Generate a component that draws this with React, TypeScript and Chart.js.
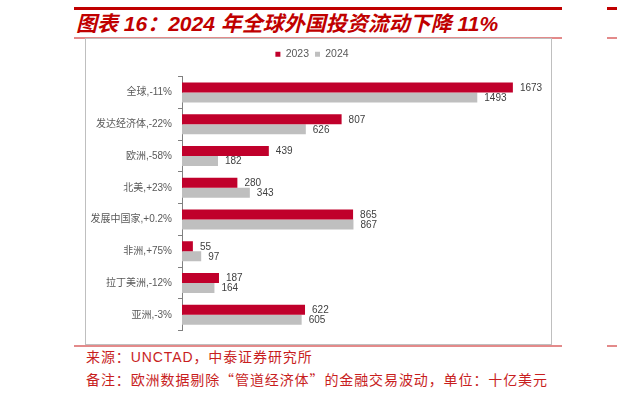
import React, { useEffect, useRef } from 'react';
import { Chart, registerables } from 'chart.js';

Chart.register(...registerables);

const TITLE = '图表 16：2024 年全球外国投资流动下降 11%';
const SOURCE = '来源：UNCTAD，中泰证券研究所';
const NOTE_PARTS = ['备注：欧洲数据剔除', '“', '管道经济体', '”', '的金融交易波动，单位：十亿美元'];

const categories = [
  '全球,-11%',
  '发达经济体,-22%',
  '欧洲,-58%',
  '北美,+23%',
  '发展中国家,+0.2%',
  '非洲,+75%',
  '拉丁美洲,-12%',
  '亚洲,-3%',
];
const seriesNames = ['2023', '2024'];
const values2023 = [1673, 807, 439, 280, 865, 55, 187, 622];
const values2024 = [1493, 626, 182, 343, 867, 97, 164, 605];

const FONT = "'Liberation Sans', 'Noto Sans CJK SC', sans-serif";
const CJK = "'Noto Sans CJK SC', sans-serif";

const valueLabels = {
  id: 'valueLabels',
  afterDatasetsDraw(chart: any) {
    const ctx = chart.ctx;
    ctx.save();
    ctx.font = `10px ${FONT}`;
    ctx.fillStyle = '#404040';
    ctx.textBaseline = 'middle';
    ctx.textAlign = 'left';
    chart.data.datasets.forEach((ds: any, i: number) => {
      const meta = chart.getDatasetMeta(i);
      meta.data.forEach((bar: any, j: number) => {
        ctx.fillText(String(ds.data[j]), bar.x + 7, bar.y + 0.5);
      });
    });
    ctx.restore();
  },
};

export default function App() {
  const ref = useRef<HTMLCanvasElement>(null);

  useEffect(() => {
    if (!ref.current) return;
    const chart = new Chart(ref.current, {
      type: 'bar',
      data: {
        labels: categories,
        datasets: [
          {
            label: seriesNames[0],
            data: values2023,
            backgroundColor: '#c0002b',
            categoryPercentage: 0.63,
            barPercentage: 1,
          },
          {
            label: seriesNames[1],
            data: values2024,
            backgroundColor: '#bfbfbf',
            categoryPercentage: 0.63,
            barPercentage: 1,
          },
        ],
      },
      options: {
        indexAxis: 'y',
        responsive: false,
        animation: false,
        layout: { padding: { top: 4, right: 13, bottom: 13.3, left: 0 } },
        plugins: {
          legend: {
            position: 'top',
            labels: {
              boxWidth: 5,
              boxHeight: 5,
              padding: 6,
              color: '#595959',
              font: { size: 10.5, family: FONT },
            },
          },
          title: {
            display: true,
            text: ' ',
            padding: 0,
            font: { size: 6 },
            weight: 500,
          } as any,
          tooltip: { enabled: false },
        },
        scales: {
          x: { display: false, min: 0, max: 1800 },
          y: {
            grid: {
              display: true,
              drawOnChartArea: false,
              drawTicks: true,
              tickLength: 4,
              color: '#808080',
              offset: true,
            },
            border: { display: true, color: '#808080' },
            ticks: {
              color: '#595959',
              padding: 6,
              font: { size: 10, family: FONT },
            },
            afterFit(scale: any) {
              scale.width = 96;
            },
          },
        },
      },
      plugins: [valueLabels],
    });
    return () => chart.destroy();
  }, []);

  const abs = (s: React.CSSProperties): React.CSSProperties => ({ position: 'absolute', ...s });

  return (
    <div style={{ position: 'fixed', left: 0, top: 0, width: 617, height: 396, background: '#fff', overflow: 'hidden' }}>
      <div style={abs({ left: 74, top: 7, width: 488, height: 2.5, background: '#c00000' })} />
      <div style={abs({ left: 607, top: 7, width: 10, height: 2.5, background: '#c00000' })} />
      <div
        style={abs({
          left: 76,
          top: 13,
          height: 22,
          lineHeight: '22px',
          fontSize: 21,
          fontStyle: 'italic',
          fontWeight: 'bold',
          color: '#c00000',
          fontFamily: FONT,
          whiteSpace: 'nowrap',
        })}
      >
        {TITLE}
      </div>
      <div style={abs({ left: 74, top: 37, width: 488, height: 2, background: '#e38a8a' })} />
      <div style={abs({ left: 607, top: 37, width: 10, height: 2, background: '#e38a8a' })} />
      <div
        style={abs({
          left: 85,
          top: 38,
          width: 467,
          height: 307,
          boxSizing: 'border-box',
          border: '1px solid #bfbfbf',
        })}
      />
      <canvas ref={ref} width={465} height={305} style={abs({ left: 86, top: 39, width: 465, height: 305, display: 'block' })} />
      <div style={abs({ left: 74, top: 345, width: 488, height: 2, background: '#e38a8a' })} />
      <div style={abs({ left: 607, top: 345, width: 10, height: 2, background: '#e38a8a' })} />
      <div
        style={abs({
          left: 86,
          top: 346,
          lineHeight: '22px',
          fontSize: 14,
          letterSpacing: '0.9px',
          color: '#c81e1e',
          fontFamily: FONT,
          whiteSpace: 'nowrap',
        })}
      >
        <div>{SOURCE}</div>
        <div>
          {NOTE_PARTS[0]}
          <span style={{ fontFamily: CJK }}>{NOTE_PARTS[1]}</span>
          {NOTE_PARTS[2]}
          <span style={{ fontFamily: CJK }}>{NOTE_PARTS[3]}</span>
          {NOTE_PARTS[4]}
        </div>
      </div>
    </div>
  );
}
